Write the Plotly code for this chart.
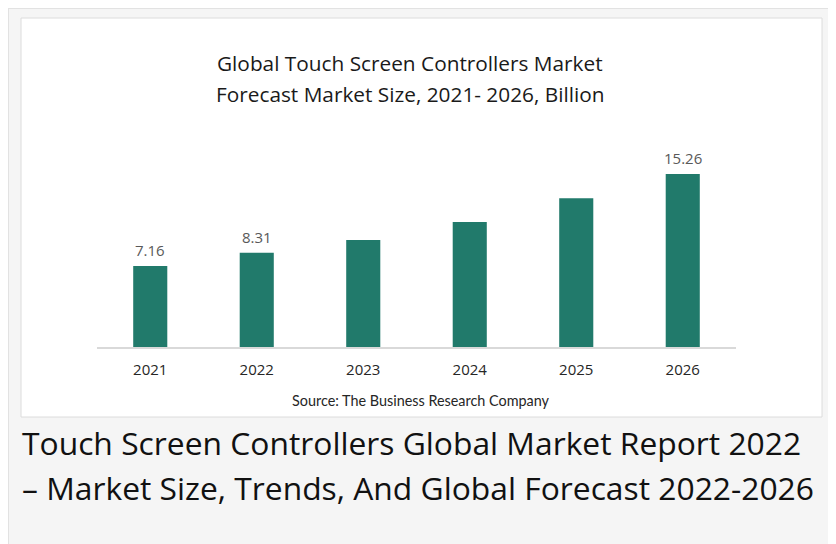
import plotly.graph_objects as go

years = ["2021", "2022", "2023", "2024", "2025", "2026"]
market_size = [7.16, 8.31, 9.44, 11.03, 13.12, 15.26]
bar_labels = ["7.16", "8.31", "", "", "", "15.26"]

chart_title_1 = "Global Touch Screen Controllers Market"
chart_title_2 = "Forecast Market Size, 2021- 2026, Billion"
source_text = "Source: The Business Research Company"
caption_1 = "Touch Screen Controllers Global Market Report 2022"
caption_2 = "– Market Size, Trends, And Global Forecast 2022-2026"

W, H = 836, 544
OFF = 8  # page body margin
BAR = "#217a6b"

def px(x):
    return (x - OFF) / W

def py(y):
    return (H - (y - OFF)) / H

fig = go.Figure()
fig.add_trace(go.Bar(
    x=years, y=market_size,
    marker=dict(color=BAR, line=dict(width=0)),
    cliponaxis=False, hoverinfo="skip",
))

axis_y = 347
top_y = 143
yr_max = (axis_y - top_y) / 11.33

annotations = [
    dict(text=chart_title_1, xref="paper", yref="paper", x=px(410), y=py(63),
         xanchor="center", yanchor="middle", showarrow=False,
         font=dict(family="Open Sans", size=20.8, color="#1a1a1a")),
    dict(text=chart_title_2, xref="paper", yref="paper", x=px(410), y=py(94),
         xanchor="center", yanchor="middle", showarrow=False,
         font=dict(family="Open Sans", size=20.8, color="#1a1a1a")),
    dict(text=source_text, xref="paper", yref="paper", x=px(421), y=py(400),
         xanchor="center", yanchor="middle", showarrow=False,
         font=dict(family="Lato", size=14.4, color="#262626")),
    dict(text=caption_1, xref="paper", yref="paper", x=px(20), y=py(442),
         xanchor="left", yanchor="middle", showarrow=False,
         font=dict(family="Open Sans", size=31.8, color="#111111")),
    dict(text=caption_2, xref="paper", yref="paper", x=px(20), y=py(487),
         xanchor="left", yanchor="middle", showarrow=False,
         font=dict(family="Open Sans", size=31.8, color="#111111")),
]
for i, (v, lab) in enumerate(zip(market_size, bar_labels)):
    if lab:
        annotations.append(dict(text=lab, x=i, y=v, xref="x", yref="y",
                                yanchor="middle", yshift=16, showarrow=False,
                                font=dict(family="Open Sans", size=15, color="#595959")))

fig.update_layout(
    width=W, height=H,
    margin=dict(l=0, r=0, t=0, b=0, autoexpand=False),
    paper_bgcolor="#f5f5f5", plot_bgcolor="rgba(0,0,0,0)",
    showlegend=False, bargap=0.68,
    xaxis=dict(type="category", domain=[px(97), px(736)], showgrid=False, zeroline=False,
               showline=True, linecolor="#d9d9d9", linewidth=1.5,
               ticks="", ticklabelstandoff=8, automargin=False,
               tickfont=dict(family="Open Sans", size=15, color="#262626"),
               fixedrange=True),
    yaxis=dict(domain=[py(axis_y), py(top_y)], range=[0, yr_max], visible=False,
               automargin=False, fixedrange=True),
    shapes=[
        dict(type="rect", xref="paper", yref="paper", x0=0, x1=1.05, y0=-0.05, y1=1.0,
             fillcolor="#f5f5f5", line=dict(color="#e2e2e2", width=2), layer="below"),
        dict(type="rect", xref="paper", yref="paper", x0=px(21), x1=px(822), y0=py(417), y1=py(18),
             fillcolor="white", line=dict(color="#dcdcdc", width=1), layer="below"),
    ],
    annotations=annotations,
)

fig.write_html("out.html")
